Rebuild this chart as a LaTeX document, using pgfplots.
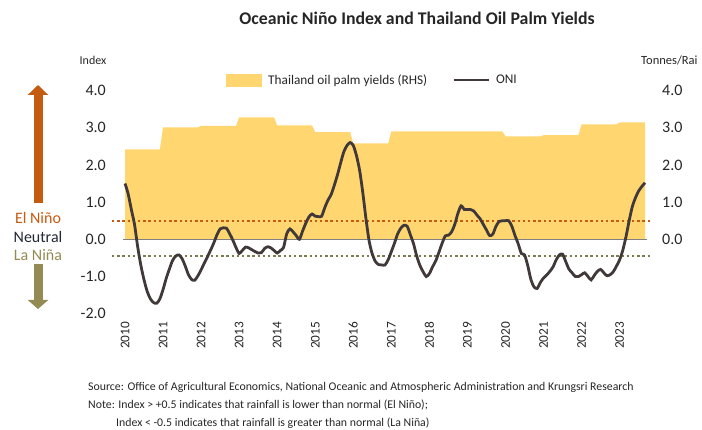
\documentclass[border=0pt]{standalone}
\usepackage{fontspec}
\setmainfont{Carlito}
\usepackage{pgfplots}
\usepackage{pgfplotstable}
\pgfplotsset{compat=1.18}
\usetikzlibrary{arrows.meta}

\definecolor{yld}{RGB}{255,214,112}
\definecolor{oni}{RGB}{64,56,57}
\definecolor{elnino}{RGB}{197,90,17}
\definecolor{lanina}{RGB}{148,138,84}
\definecolor{ladot}{RGB}{125,122,80}
\definecolor{neutral}{RGB}{34,40,52}
\definecolor{txt}{RGB}{38,38,38}

\pgfplotstableread{
m v
0 1.50
1 1.22
2 0.80
3 0.40
4 -0.20
5 -0.70
6 -1.09
7 -1.40
8 -1.60
9 -1.70
10 -1.72
11 -1.60
12 -1.35
13 -1.05
14 -0.80
15 -0.57
16 -0.45
17 -0.42
18 -0.52
19 -0.72
20 -0.95
21 -1.08
22 -1.10
23 -0.98
24 -0.82
25 -0.64
26 -0.47
27 -0.29
28 -0.10
29 0.12
30 0.28
31 0.31
32 0.30
33 0.15
34 -0.02
35 -0.22
36 -0.38
37 -0.30
38 -0.21
39 -0.23
40 -0.28
41 -0.33
42 -0.37
43 -0.36
44 -0.25
45 -0.20
46 -0.23
47 -0.30
48 -0.37
49 -0.30
50 -0.22
51 0.15
52 0.28
53 0.20
54 0.10
55 0.00
56 0.22
57 0.43
58 0.60
59 0.68
60 0.62
61 0.61
62 0.62
63 0.85
64 1.05
65 1.20
66 1.45
67 1.73
68 2.05
69 2.35
70 2.52
71 2.60
72 2.52
73 2.25
74 1.85
75 1.25
76 0.55
77 -0.05
78 -0.40
79 -0.60
80 -0.68
81 -0.69
82 -0.69
83 -0.55
84 -0.33
85 -0.10
86 0.15
87 0.30
88 0.38
89 0.35
90 0.12
91 -0.12
92 -0.45
93 -0.70
94 -0.87
95 -1.00
96 -0.92
97 -0.74
98 -0.58
99 -0.35
100 -0.11
101 0.09
102 0.11
103 0.20
104 0.40
105 0.70
106 0.90
107 0.80
108 0.80
109 0.80
110 0.76
111 0.65
112 0.55
113 0.40
114 0.25
115 0.10
116 0.14
117 0.35
118 0.48
119 0.50
120 0.50
121 0.50
122 0.35
123 0.10
124 -0.12
125 -0.38
126 -0.42
127 -0.70
128 -1.08
129 -1.28
130 -1.32
131 -1.16
132 -1.04
133 -0.96
134 -0.86
135 -0.74
136 -0.55
137 -0.42
138 -0.40
139 -0.60
140 -0.80
141 -0.90
142 -1.00
143 -1.00
144 -0.95
145 -0.90
146 -1.00
147 -1.09
148 -0.97
149 -0.86
150 -0.81
151 -0.90
152 -0.98
153 -0.95
154 -0.87
155 -0.72
156 -0.55
157 -0.29
158 0.07
159 0.50
160 0.88
161 1.12
162 1.30
163 1.42
164 1.52
}\onitable

\pgfplotstableread{
m y
0 0
0 2.42
11 2.42
12 3.01
23 3.01
24 3.05
35 3.05
36 3.28
47 3.28
48 3.06
59 3.06
60 2.88
71 2.88
72 2.58
83 2.58
84 2.90
119 2.90
120 2.77
131 2.77
132 2.80
143 2.80
144 3.09
155 3.09
156 3.14
164 3.14
164 0
}\yldtable

\begin{document}
\begin{tikzpicture}[x=1pt,y=1pt]
\path[use as bounding box] (0,0) rectangle (702,429);

\begin{axis}[
  at={(112pt,115.3pt)}, anchor=south west,
  scale only axis, width=540pt, height=223.2pt,
  xmin=-4.1, xmax=166.2, ymin=-2, ymax=4,
  axis line style={draw=none},
  major tick length=0pt,
  ytick={-2,-1,0,1,2,3,4},
  xtick={0,12,24,36,48,60,72,84,96,108,120,132,144,156},
  xticklabels={2010,2011,2012,2013,2014,2015,2016,2017,2018,2019,2020,2021,2022,2023},
  xticklabel style={rotate=90, anchor=east, inner sep=0pt, font=\fontsize{13.3}{15}\selectfont, text=txt},
  xticklabel shift=8pt,
  yticklabel style={anchor=east, inner sep=0pt, font=\fontsize{16}{18}\selectfont, text=txt,
    /pgf/number format/.cd, fixed, fixed zerofill, precision=1, assume math mode=true},
  yticklabel shift=6pt,
  legend columns=2,
  legend style={at={(axis description cs:0.2111,1.047)}, anchor=west, draw=none, fill=none,
    inner sep=0pt, font=\fontsize{13.3}{15}\selectfont, text=txt,
    nodes={inner sep=0pt},
    /tikz/every odd column/.append style={column sep=6pt},
    /tikz/every even column/.append style={column sep=25pt}},
]
\addplot[fill=yld, draw=none,
  legend image code/.code={\fill[yld] (0pt,-6.5pt) rectangle (36pt,6.5pt);}]
  table[x=m,y=y] {\yldtable};
\addlegendentry{Thailand oil palm yields (RHS)}
\addplot[forget plot, color=gray, line width=1pt] coordinates {(-0.6,0) (164.7,0)};
\addplot[forget plot, color=elnino, line width=2.4pt, dash pattern=on 2.4pt off 2.8pt] coordinates {(-4.1,0.5) (166.2,0.5)};
\addplot[forget plot, color=ladot, line width=2.4pt, dash pattern=on 2.4pt off 2.8pt] coordinates {(-4.1,-0.45) (166.2,-0.45)};
\addplot[color=oni, line width=2.8pt, smooth, tension=0.45,
  legend image code/.code={\draw[oni, line width=2.8pt] (0pt,0pt) -- (35pt,0pt);}]
  table[x=m,y=v] {\onitable};
\addlegendentry{ONI}
\end{axis}

\begin{axis}[
  at={(112pt,115.3pt)}, anchor=south west,
  scale only axis, width=540pt, height=223.2pt,
  xmin=-4.1, xmax=166.2, ymin=-2, ymax=4,
  axis y line*=right, hide x axis,
  axis line style={draw=none},
  major tick length=0pt,
  ytick={0,1,2,3,4},
  yticklabel style={anchor=west, inner sep=0pt, font=\fontsize{16}{18}\selectfont, text=txt,
    /pgf/number format/.cd, fixed, fixed zerofill, precision=1, assume math mode=true},
  yticklabel shift=10pt,
]
\addplot[draw=none] coordinates {(0,0)};
\end{axis}

\node[font=\bfseries\fontsize{17.8}{20}\selectfont, text=txt] at (417,411) {Oceanic Niño Index and Thailand Oil Palm Yields};
\node[font=\fontsize{12}{14}\selectfont, text=txt] at (93,369) {Index};
\node[font=\fontsize{12.5}{14}\selectfont, text=txt, anchor=west, inner sep=0pt] at (641,369) {Tonnes/Rai};

\draw[elnino, line width=9pt, -{Triangle[width=20pt,length=10pt]}] (38,226) -- (38,344);
\draw[lanina, line width=9pt, -{Triangle[width=20pt,length=9pt]}] (38,165) -- (38,120);
\node[font=\fontsize{16}{18}\selectfont, text=elnino] at (38,211) {El Niño};
\node[font=\fontsize{16}{18}\selectfont, text=neutral] at (38,192) {Neutral};
\node[font=\fontsize{16}{18}\selectfont, text=lanina] at (38,174) {La Niña};

\node[font=\fontsize{11.8}{13}\selectfont, text=txt, anchor=west, inner sep=0pt] at (88,42) {Source: Office of Agricultural Economics, National Oceanic and Atmospheric Administration and Krungsri Research};
\node[font=\fontsize{11.8}{13}\selectfont, text=txt, anchor=west, inner sep=0pt] at (88,24) {Note: Index > +0.5 indicates that rainfall is lower than normal (El Niño);};
\node[font=\fontsize{11.8}{13}\selectfont, text=txt, anchor=west, inner sep=0pt] at (116,6) {Index < -0.5 indicates that rainfall is greater than normal (La Niña)};
\end{tikzpicture}
\end{document}
